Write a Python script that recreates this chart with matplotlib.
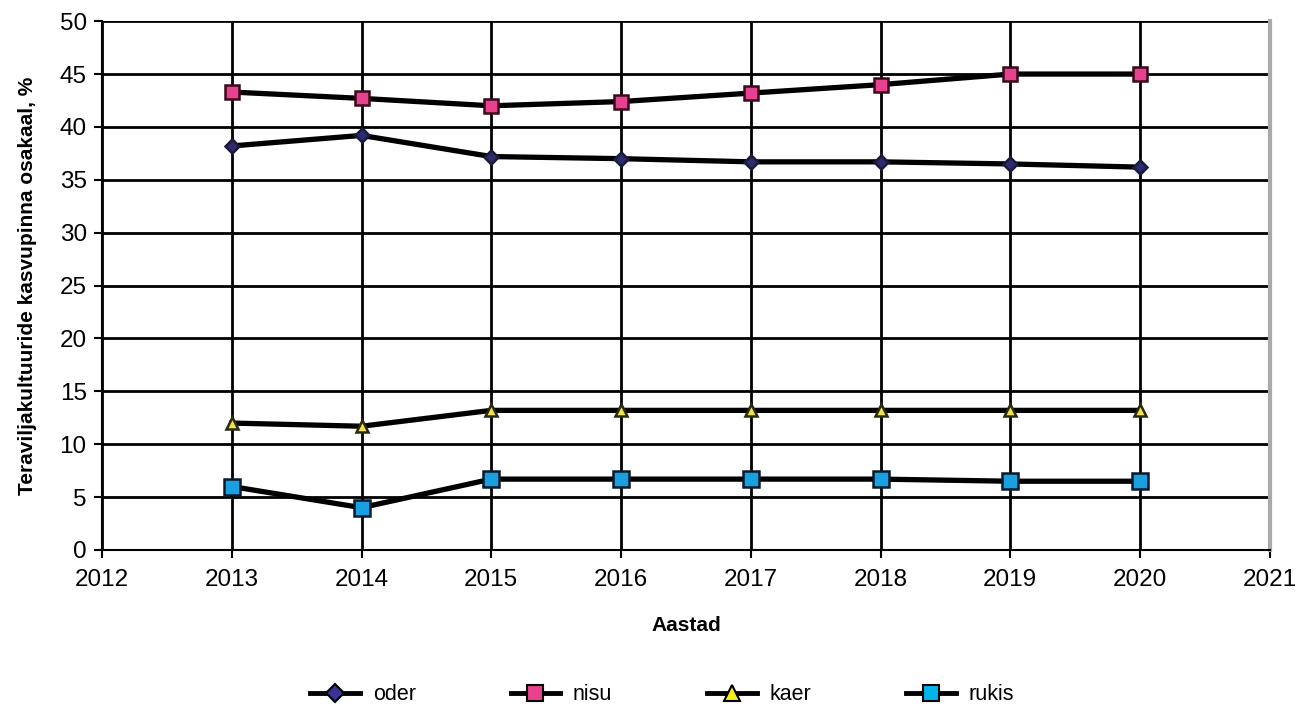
import matplotlib
matplotlib.use("Agg")
import matplotlib.pyplot as plt
from matplotlib.lines import Line2D

plt.rcParams['font.family'] = ['Liberation Sans', 'DejaVu Sans']

years = [2013, 2014, 2015, 2016, 2017, 2018, 2019, 2020]
oder = [38.2, 39.2, 37.2, 37.0, 36.7, 36.7, 36.5, 36.2]
nisu = [43.3, 42.7, 42.0, 42.4, 43.2, 44.0, 45.0, 45.0]
kaer = [12.0, 11.7, 13.2, 13.2, 13.2, 13.2, 13.2, 13.2]
rukis = [6.0, 4.0, 6.7, 6.7, 6.7, 6.7, 6.5, 6.5]
series_names = ["oder", "nisu", "kaer", "rukis"]
x_ticks = list(range(2012, 2022))
y_ticks = list(range(0, 51, 5))

fig = plt.figure(figsize=(13.01, 7.06), dpi=100)
ax = fig.add_axes([0.0784, 0.221, 0.8976, 0.749])

styles = [
    (oder, 'D', '#2e2a6e', 7, '#1a1a3a'),
    (nisu, 's', '#e8418f', 10, '#3a0a1a'),
    (kaer, '^', '#f2e24a', 9, '#2a2a10'),
    (rukis, 's', '#1aa0e0', 11, '#0a1a2a'),
]
for vals, mk, col, ms, ec in styles:
    ax.plot(years, vals, color='black', lw=3.8, marker=mk, markersize=ms,
            markerfacecolor=col, markeredgecolor=ec, markeredgewidth=1.8, zorder=3)

ax.set_xlim(2012, 2021)
ax.set_ylim(0, 50)
ax.set_xticks(x_ticks)
ax.set_yticks(y_ticks)
ax.grid(True, color='black', lw=2)
ax.set_axisbelow(True)
ax.tick_params(axis='both', labelsize=17.5, length=6, width=1.5, color='black')
ax.tick_params(axis='x', pad=8)
ax.tick_params(axis='y', pad=5)
for s in ['left', 'bottom', 'top']:
    ax.spines[s].set_linewidth(1.5)
    ax.spines[s].set_color('black')
ax.spines['top'].set_visible(False)
ax.spines['right'].set_color('#aaaaaa')
ax.spines['right'].set_linewidth(3)

ax.set_xlabel("Aastad", fontsize=15, fontweight='bold', labelpad=18)
ax.set_ylabel("Teraviljakultuuride kasvupinna osakaal, %", fontsize=15, fontweight='bold', labelpad=16)

handles = [
    Line2D([0], [0], color='black', lw=3.5, marker='D', markersize=9, markerfacecolor='#3b3291', markeredgecolor='black', markeredgewidth=1.5),
    Line2D([0], [0], color='black', lw=3.5, marker='s', markersize=11, markerfacecolor='#e8418f', markeredgecolor='black', markeredgewidth=1.5),
    Line2D([0], [0], color='black', lw=3.5, marker='^', markersize=11, markerfacecolor='#f7ec1a', markeredgecolor='black', markeredgewidth=1.5),
    Line2D([0], [0], color='black', lw=3.5, marker='s', markersize=11, markerfacecolor='#00b4ec', markeredgecolor='black', markeredgewidth=1.5),
]
fig.legend(handles, series_names, loc='center', bbox_to_anchor=(0.509, 0.016), ncol=4,
           frameon=False, fontsize=15.5, columnspacing=4.4, handlelength=2.3, handletextpad=0.6)

fig.savefig("out.png", dpi=100)
